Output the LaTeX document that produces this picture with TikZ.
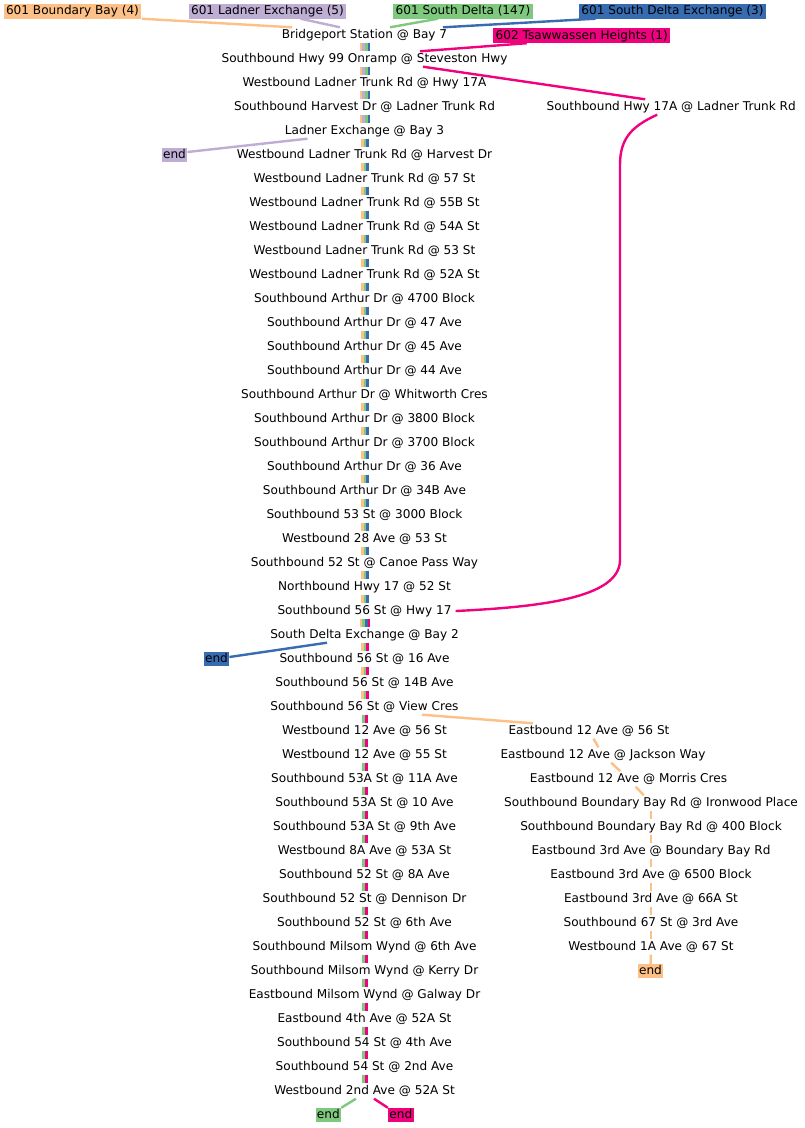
\documentclass[tikz,border=0pt]{standalone}
\usepackage{fontspec}
\setmainfont{DejaVu Sans}
\usetikzlibrary{calc}
\definecolor{cO}{HTML}{FDC086}
\definecolor{cP}{HTML}{BEAED4}
\definecolor{cG}{HTML}{7FC97F}
\definecolor{cB}{HTML}{386CB0}
\definecolor{cK}{HTML}{F0027F}
\begin{document}
\begin{tikzpicture}[x=1pt,y=-1pt,
  stop/.style={inner xsep=4pt, inner ysep=0pt, minimum height=15pt, text height=10pt, text depth=3pt, font=\fontsize{12.1}{14}\selectfont},
  tag/.style={stop, inner xsep=2.5pt},
  endtag/.style={stop, inner xsep=1.3pt, minimum height=14pt},
  conn/.style={line width=2.4pt},
  stripe/.style={line width=2.6pt}]
\useasboundingbox[fill=white] (0,0) rectangle (804,1128);

% main column
\foreach \t [count=\i from 0] in {
Bridgeport Station @ Bay 7,
Southbound Hwy 99 Onramp @ Steveston Hwy,
Westbound Ladner Trunk Rd @ Hwy 17A,
Southbound Harvest Dr @ Ladner Trunk Rd,
Ladner Exchange @ Bay 3,
Westbound Ladner Trunk Rd @ Harvest Dr,
Westbound Ladner Trunk Rd @ 57 St,
Westbound Ladner Trunk Rd @ 55B St,
Westbound Ladner Trunk Rd @ 54A St,
Westbound Ladner Trunk Rd @ 53 St,
Westbound Ladner Trunk Rd @ 52A St,
Southbound Arthur Dr @ 4700 Block,
Southbound Arthur Dr @ 47 Ave,
Southbound Arthur Dr @ 45 Ave,
Southbound Arthur Dr @ 44 Ave,
Southbound Arthur Dr @ Whitworth Cres,
Southbound Arthur Dr @ 3800 Block,
Southbound Arthur Dr @ 3700 Block,
Southbound Arthur Dr @ 36 Ave,
Southbound Arthur Dr @ 34B Ave,
Southbound 53 St @ 3000 Block,
Westbound 28 Ave @ 53 St,
Southbound 52 St @ Canoe Pass Way,
Northbound Hwy 17 @ 52 St,
Southbound 56 St @ Hwy 17,
South Delta Exchange @ Bay 2,
Southbound 56 St @ 16 Ave,
Southbound 56 St @ 14B Ave,
Southbound 56 St @ View Cres,
Westbound 12 Ave @ 56 St,
Westbound 12 Ave @ 55 St,
Southbound 53A St @ 11A Ave,
Southbound 53A St @ 10 Ave,
Southbound 53A St @ 9th Ave,
Westbound 8A Ave @ 53A St,
Southbound 52 St @ 8A Ave,
Southbound 52 St @ Dennison Dr,
Southbound 52 St @ 6th Ave,
Southbound Milsom Wynd @ 6th Ave,
Southbound Milsom Wynd @ Kerry Dr,
Eastbound Milsom Wynd @ Galway Dr,
Eastbound 4th Ave @ 52A St,
Southbound 54 St @ 4th Ave,
Southbound 54 St @ 2nd Ave,
Westbound 2nd Ave @ 52A St}
  \node[stop] (n\i) at (364.5,{35+24*\i}) {\t};

% side node
\node[stop] (s17a) at (671.2,107) {Southbound Hwy 17A @ Ladner Trunk Rd};

% right column
\node[stop] (r0) at (589,731) {Eastbound 12 Ave @ 56 St};
\node[stop] (r1) at (603,755) {Eastbound 12 Ave @ Jackson Way};
\node[stop] (r2) at (628.5,779) {Eastbound 12 Ave @ Morris Cres};
\node[stop] (r3) at (651,803) {Southbound Boundary Bay Rd @ Ironwood Place};
\node[stop] (r4) at (651,827) {Southbound Boundary Bay Rd @ 400 Block};
\node[stop] (r5) at (651,851) {Eastbound 3rd Ave @ Boundary Bay Rd};
\node[stop] (r6) at (651,875) {Eastbound 3rd Ave @ 6500 Block};
\node[stop] (r7) at (651,899) {Eastbound 3rd Ave @ 66A St};
\node[stop] (r8) at (651,923) {Southbound 67 St @ 3rd Ave};
\node[stop] (r9) at (651,947) {Westbound 1A Ave @ 67 St};

% headers
\node[tag,fill=cO] (h1) at (72.5,11) {601 Boundary Bay (4)};
\node[tag,fill=cP] (h2) at (267.5,11) {601 Ladner Exchange (5)};
\node[tag,fill=cG] (h3) at (463,11) {601 South Delta (147)};
\node[tag,fill=cB] (h4) at (672.5,11) {601 South Delta Exchange (3)};
\node[tag,fill=cK] (h5) at (581.8,35.5) {602 Tsawwassen Heights (1)};

% ends
\node[endtag,fill=cP] (eP) at (174.5,155) {end};
\node[endtag,fill=cB] (eB) at (216.5,659) {end};
\node[endtag,fill=cO] (eO) at (650.5,971) {end};
\node[endtag,fill=cG] (eG) at (328.3,1115) {end};
\node[endtag,fill=cK] (eK) at (400.8,1115) {end};

% stripes along main column
\foreach \k in {0,...,3}{
  \pgfmathtruncatemacro\m{\k+1}
  \foreach \c [count=\i] in {cO,cP,cG,cB}{
    \pgfmathsetmacro\off{0.5+(\i-2.5)*2.6}
    \draw[stripe,draw=\c] ([xshift=\off pt]n\k.south) -- ([xshift=\off pt]n\m.north);
  }}
\foreach \k in {4,...,23}{
  \pgfmathtruncatemacro\m{\k+1}
  \foreach \c [count=\i] in {cO,cG,cB}{
    \pgfmathsetmacro\off{0.5+(\i-2)*2.6}
    \draw[stripe,draw=\c] ([xshift=\off pt]n\k.south) -- ([xshift=\off pt]n\m.north);
  }}
\foreach \k in {24}{
  \pgfmathtruncatemacro\m{\k+1}
  \foreach \c [count=\i] in {cO,cG,cB,cK}{
    \pgfmathsetmacro\off{0.5+(\i-2.5)*2.6}
    \draw[stripe,draw=\c] ([xshift=\off pt]n\k.south) -- ([xshift=\off pt]n\m.north);
  }}
\foreach \k in {25,...,27}{
  \pgfmathtruncatemacro\m{\k+1}
  \foreach \c [count=\i] in {cO,cG,cK}{
    \pgfmathsetmacro\off{0.5+(\i-2)*2.6}
    \draw[stripe,draw=\c] ([xshift=\off pt]n\k.south) -- ([xshift=\off pt]n\m.north);
  }}
\foreach \k in {28,...,43}{
  \pgfmathtruncatemacro\m{\k+1}
  \foreach \c [count=\i] in {cG,cK}{
    \pgfmathsetmacro\off{0.5+(\i-1.5)*2.6}
    \draw[stripe,draw=\c] ([xshift=\off pt]n\k.south) -- ([xshift=\off pt]n\m.north);
  }}

% header connectors
\draw[conn,cO] (h1.south east) -- ([xshift=-72.5pt]n0.north);
\draw[conn,cP] ([xshift=33pt]h2.south) -- ([xshift=-24.5pt]n0.north);
\draw[conn,cG] ([xshift=-25pt]h3.south) -- ([xshift=25.5pt]n0.north);
\draw[conn,cB] ([xshift=-77pt]h4.south) -- ([xshift=78.5pt]n0.north);
\draw[conn,cK] ([xshift=-55pt]h5.south) -- ([xshift=55.5pt]n1.north);

% pink detour
\draw[conn,cK] ([xshift=58.5pt]n1.south) -- ([xshift=-26pt]s17a.north);
\draw[conn,cK] ([xshift=-14pt]s17a.south) .. controls (630,127) and (620,140) .. (620,165)
  -- (620,560) .. controls (620,598) and (540,607) .. (n24.east);

% branches to ends
\draw[conn,cP] ([xshift=-57pt]n4.south) -- ([yshift=3pt]eP.east);
\draw[conn,cB] ([xshift=-37.5pt]n25.south) -- ([yshift=2pt]eB.east);
\draw[conn,cG] ([xshift=-8.5pt]n44.south) -- (eG.north east);
\draw[conn,cK] ([xshift=9.5pt]n44.south) -- (eK.north west);

% orange branch to right column
\draw[conn,cO] ([xshift=57.5pt]n28.south) -- ([xshift=-56pt]r0.north);
\draw[conn,cO] (r0) -- (r1);
\draw[conn,cO] (r1) -- (r2);
\draw[conn,cO] (r2) -- (r3);
\draw[conn,cO] (r3) -- (r4);
\draw[conn,cO] (r4) -- (r5);
\draw[conn,cO] (r5) -- (r6);
\draw[conn,cO] (r6) -- (r7);
\draw[conn,cO] (r7) -- (r8);
\draw[conn,cO] (r8) -- (r9);
\draw[conn,cO] (r9) -- (eO);
\end{tikzpicture}
\end{document}
